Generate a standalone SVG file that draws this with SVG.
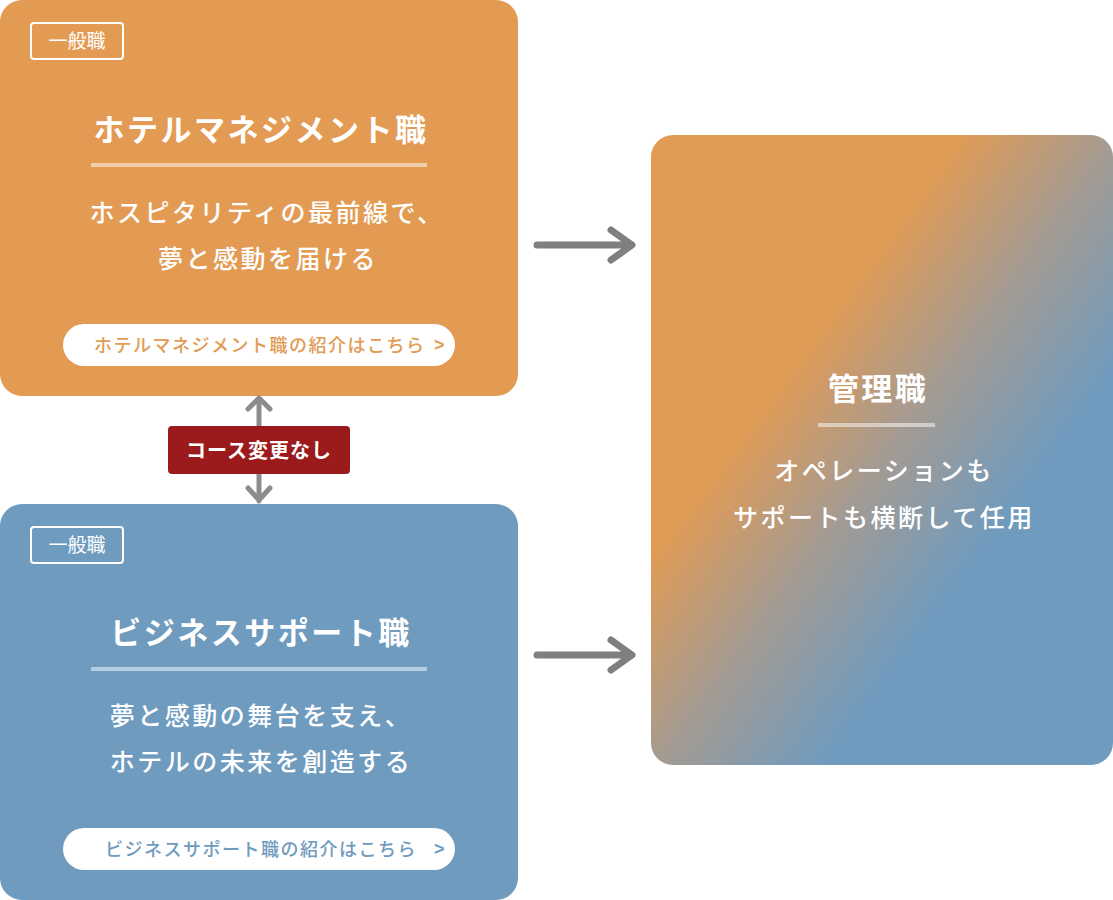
<svg xmlns="http://www.w3.org/2000/svg" width="1113" height="900" viewBox="0 0 1113 900">
  <defs>
    <linearGradient id="mgGrad" gradientUnits="userSpaceOnUse" x1="581.5" y1="229.6" x2="1182.5" y2="670.4">
      <stop offset="0.33" stop-color="#e29b54"/>
      <stop offset="0.51" stop-color="#a39b93"/>
      <stop offset="0.69" stop-color="#6f9bbf"/>
    </linearGradient>
    <style>
      text { font-family: "Noto Sans CJK JP", "Noto Sans", sans-serif; }
      .badge-rect { fill: none; stroke: #ffffff; stroke-width: 2; }
      .badge-text { font-size: 19px; fill: #ffffff; }
      .title { font-size: 31px; font-weight: 700; fill: #ffffff; letter-spacing: 2.5px; }
      .rule { stroke: rgba(255,255,255,0.5); stroke-width: 4; }
      .sub { font-size: 25px; font-weight: 500; fill: #ffffff; letter-spacing: 2.5px; }
      .btn { fill: #ffffff; }
      .btn-text { font-size: 18px; font-weight: 500; letter-spacing: 1.5px; }
      .chev { font-family: "Liberation Sans", "DejaVu Sans", sans-serif; font-size: 18px; font-weight: 700; }
      .arrow-h { stroke: #7f7f7f; stroke-width: 7; stroke-linecap: round; stroke-linejoin: round; fill: none; }
      .arrow-v { stroke: #8c8c8c; stroke-width: 5; stroke-linecap: round; stroke-linejoin: round; fill: none; }
    </style>
  </defs>

  <g id="hotel-management">
    <rect x="0" y="0" width="518" height="396" rx="22" fill="#e39b54"/>
    <rect class="badge-rect" x="31" y="23" width="92" height="36" rx="3"/>
    <text class="badge-text" x="77" y="48" text-anchor="middle">一般職</text>
    <text class="title" x="261" y="141" text-anchor="middle">ホテルマネジメント職</text>
    <line class="rule" x1="91" y1="165" x2="427" y2="165"/>
    <text class="sub" x="267" y="222" text-anchor="middle">ホスピタリティの最前線で、</text>
    <text class="sub" x="268" y="268" text-anchor="middle">夢と感動を届ける</text>
    <rect class="btn" x="63" y="324" width="392" height="42" rx="21"/>
    <text class="btn-text" x="94" y="352" fill="#e29b54">ホテルマネジメント職の紹介はこちら</text>
    <text class="chev" x="434" y="351" fill="#e29b54">&gt;</text>
  </g>

  <g id="business-support">
    <rect x="0" y="504" width="518" height="396" rx="22" fill="#6f9bbf"/>
    <rect class="badge-rect" x="31" y="527" width="92" height="36" rx="3"/>
    <text class="badge-text" x="77" y="552" text-anchor="middle">一般職</text>
    <text class="title" x="261" y="644" text-anchor="middle">ビジネスサポート職</text>
    <line class="rule" x1="91" y1="669" x2="427" y2="669"/>
    <text class="sub" x="261" y="725" text-anchor="middle">夢と感動の舞台を支え、</text>
    <text class="sub" x="261" y="771" text-anchor="middle">ホテルの未来を創造する</text>
    <rect class="btn" x="63" y="828" width="392" height="42" rx="21"/>
    <text class="btn-text" x="105" y="856" fill="#6f9bbf">ビジネスサポート職の紹介はこちら</text>
    <text class="chev" x="434" y="855" fill="#6f9bbf">&gt;</text>
  </g>

  <g id="management">
    <rect x="651" y="135" width="462" height="630" rx="22" fill="url(#mgGrad)"/>
    <text class="title" x="878" y="400" text-anchor="middle">管理職</text>
    <line class="rule" x1="818" y1="425" x2="935" y2="425"/>
    <text class="sub" x="884" y="480" text-anchor="middle">オペレーションも</text>
    <text class="sub" x="884" y="527" text-anchor="middle">サポートも横断して任用</text>
  </g>

  <g id="connectors">
    <path class="arrow-h" d="M537 245 H631 M611 230 L632 245 L611 260"/>
    <path class="arrow-h" d="M537 655 H631 M611 640 L632 655 L611 670"/>
    <path class="arrow-v" d="M259 399 V501 M248 409 L259 398 L270 409 M248 488 L259 500 L270 488"/>
  </g>

  <g id="no-course-change">
    <rect x="168" y="426" width="182" height="48" rx="4" fill="#9b1b1c"/>
    <text x="259" y="458" text-anchor="middle" font-size="20" font-weight="700" fill="#ffffff" letter-spacing="1">コース変更なし</text>
  </g>
</svg>
